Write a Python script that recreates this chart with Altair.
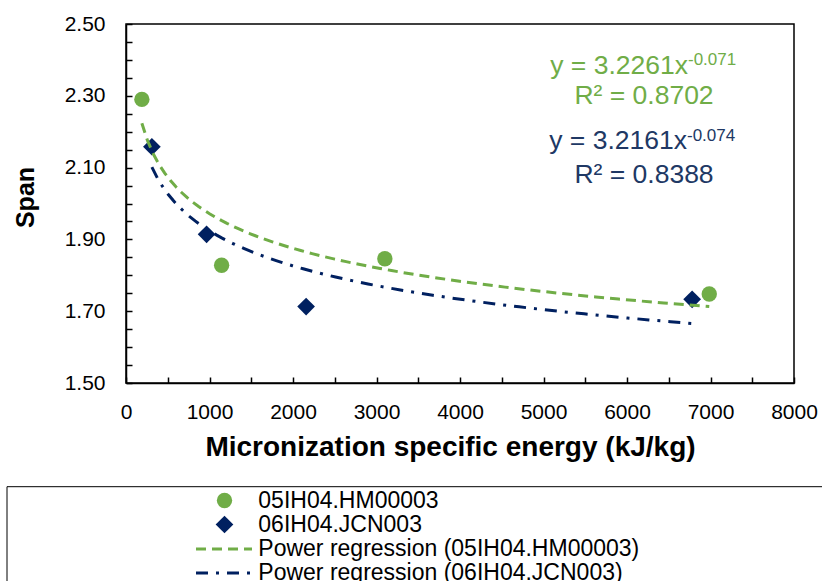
import altair as alt
import pandas as pd

# ---------------- data ----------------
series_names = ["05IH04.HM00003", "06IH04.JCN003"]
fit_names = ["Power regression (05IH04.HM00003)", "Power regression (06IH04.JCN003)"]
series_colors = ["#70AD47", "#002060"]

hm_energy = [190, 1145, 3100, 6985]
hm_span = [2.290, 1.828, 1.846, 1.748]
jcn_energy = [310, 965, 2157, 6780]
jcn_span = [2.158, 1.914, 1.713, 1.733]

x_label_values = [0, 1000, 2000, 3000, 4000, 5000, 6000, 7000, 8000]
x_tick_values = [0, 500, 1000, 1500, 2000, 2500, 3000, 3500, 4000, 4500,
                 5000, 5500, 6000, 6500, 7000, 7500, 8000]
y_label_values = [1.5, 1.7, 1.9, 2.1, 2.3, 2.5]
y_tick_values = [1.5, 1.55, 1.6, 1.65, 1.7, 1.75, 1.8, 1.85, 1.9, 1.95, 2.0,
                 2.05, 2.1, 2.15, 2.2, 2.25, 2.3, 2.35, 2.4, 2.45, 2.5]

eq_green = ["y = 3.2261x", "-0.071", "R² = 0.8702"]
eq_blue = ["y = 3.2161x", "-0.074", "R² = 0.8388"]
eq_blue_color = "#203864"

rows = []
for e, s in zip(hm_energy, hm_span):
    rows.append({"energy": e, "span": s, "series": series_names[0], "fit": fit_names[0]})
for e, s in zip(jcn_energy, jcn_span):
    rows.append({"energy": e, "span": s, "series": series_names[1], "fit": fit_names[1]})
df = pd.DataFrame(rows)

FONT = "Liberation Sans"
W, H = 668, 359

xscale = alt.Scale(domain=[0, 8000], nice=False, zero=False)
yscale = alt.Scale(domain=[1.5, 2.5], nice=False, zero=False)

x_axis_main = alt.Axis(
    values=x_label_values, format="d", ticks=False, grid=False,
    labelFont=FONT, labelFontSize=21, labelColor="black", labelPadding=18,
    labelFlush=False, labelOverlap=False,
    domainColor="black", domainWidth=1.5,
    title="Micronization specific energy (kJ/kg)", titleFont=FONT,
    titleFontSize=28, titleFontWeight="bold", titleColor="black",
    titlePadding=11, titleX=324,
)
y_axis_main = alt.Axis(
    values=y_label_values, format=".2f", ticks=False, grid=False,
    labelFont=FONT, labelFontSize=21, labelColor="black", labelPadding=21,
    labelFlush=False, labelOverlap=False,
    domainColor="black", domainWidth=1.5,
    title="Span", titleFont=FONT, titleFontSize=25, titleFontWeight="bold",
    titleColor="black", titleX=-101, titleY=173, titleBaseline="middle",
)
x_axis_ticks = alt.Axis(
    orient="top", offset=-H, values=x_tick_values, labels=False, domain=False,
    grid=False, ticks=True, tickSize=6, tickWidth=1.5, tickColor="black", title=None,
)
y_axis_ticks = alt.Axis(
    orient="right", offset=-W, values=y_tick_values, labels=False, domain=False,
    grid=False, ticks=True, tickSize=6, tickWidth=1.5, tickColor="black", title=None,
)

base = alt.Chart(df)

point_legend = alt.Legend(
    title=None, orient="none", legendX=87, legendY=464.5, padding=0,
    symbolSize=130, symbolStrokeWidth=0, labelFont=FONT, labelFontSize=23,
    labelColor="black", labelOffset=22.3, clipHeight=24, rowPadding=0,
    labelLimit=600,
)
line_legend = alt.Legend(
    title=None, orient="none", legendX=68.5, legendY=513, padding=0,
    symbolType="stroke", symbolSize=3136, symbolStrokeWidth=3,
    labelFont=FONT, labelFontSize=23, labelColor="black", labelOffset=4.8,
    clipHeight=24, rowPadding=0, labelLimit=600,
)

points = base.mark_point(filled=True, opacity=1).encode(
    x=alt.X("energy:Q", scale=xscale, axis=x_axis_main),
    y=alt.Y("span:Q", scale=yscale, axis=y_axis_main),
    color=alt.Color("series:N", scale=alt.Scale(domain=series_names, range=series_colors),
                    legend=point_legend),
    shape=alt.Shape("series:N", scale=alt.Scale(domain=series_names, range=["circle", "diamond"]),
                    legend=point_legend),
    size=alt.Size("series:N", scale=alt.Scale(domain=series_names, range=[236, 313]), legend=None),
)

fits = base.transform_regression(
    "energy", "span", method="pow", groupby=["fit"]
).mark_line(strokeWidth=3, strokeCap="butt").encode(
    x=alt.X("energy:Q", scale=xscale, axis=x_axis_ticks),
    y=alt.Y("span:Q", scale=yscale, axis=y_axis_ticks),
    color=alt.Color("fit:N", scale=alt.Scale(domain=fit_names, range=series_colors),
                    legend=line_legend),
    strokeDash=alt.StrokeDash("fit:N", scale=alt.Scale(domain=fit_names,
                                                       range=[[10, 6], [12, 8, 3, 8]]),
                              legend=line_legend),
)

one = pd.DataFrame({"k": [0]})
legend_box = alt.Chart(one).mark_rect(fillOpacity=0, stroke="black", strokeWidth=1).encode(
    x=alt.value(-119), x2=alt.value(720), y=alt.value(462.7), y2=alt.value(640)
)


def label(txt, px, py, size, color, align):
    return alt.Chart(one).mark_text(
        text=txt, font=FONT, fontSize=size, color=color, align=align, baseline="alphabetic"
    ).encode(x=alt.value(px), y=alt.value(py))


texts = [
    label(eq_green[0], 562, 50.3, 26.5, series_colors[0], "right"),
    label(eq_green[1], 562, 41, 17, series_colors[0], "left"),
    label(eq_green[2], 518, 80.3, 26.5, series_colors[0], "center"),
    label(eq_blue[0], 561, 125.3, 26.5, eq_blue_color, "right"),
    label(eq_blue[1], 561, 116.7, 17, eq_blue_color, "left"),
    label(eq_blue[2], 518, 159.3, 26.5, eq_blue_color, "center"),
]

chart = alt.layer(legend_box, points, fits, *texts).resolve_scale(
    color="independent", shape="independent", strokeDash="independent", size="independent"
).resolve_legend(
    color="independent", shape="independent", strokeDash="independent"
).resolve_axis(
    x="independent", y="independent"
).properties(
    width=W, height=H,
    padding={"left": 126, "top": 24, "right": 28, "bottom": 198},
    autosize=alt.AutoSizeParams(type="none"),
    background="white",
).configure_view(stroke="black", strokeWidth=1.5)

chart.save("out.html", embed_options={"renderer": "svg", "actions": False})
